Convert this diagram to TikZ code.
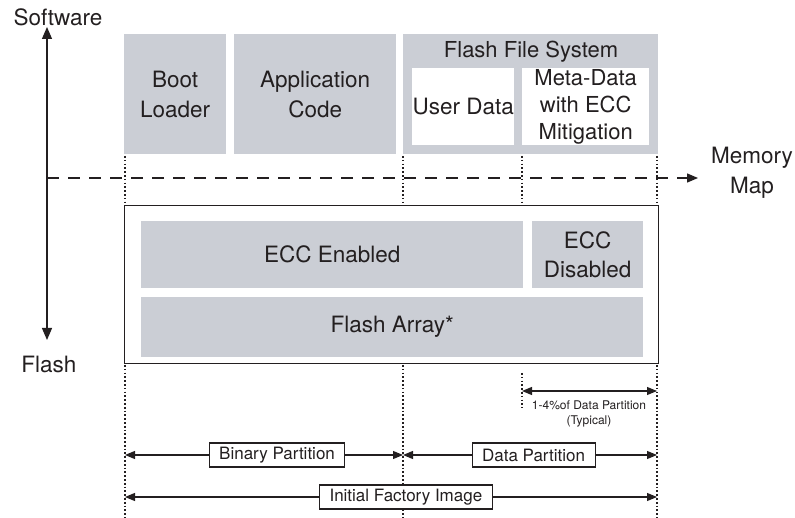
\documentclass[tikz,border=0pt]{standalone}
\usepackage{fontspec}
\setmainfont{TeX Gyre Heros}
\usetikzlibrary{arrows.meta}
\definecolor{boxgray}{RGB}{203,206,213}
\definecolor{ink}{RGB}{35,31,32}
\newcommand{\bigtxt}{\fontsize{22.5}{30}\selectfont}
\newcommand{\midtxt}{\fontsize{17}{20}\selectfont}
\newcommand{\smalltxt}{\fontsize{12}{15}\selectfont}
\begin{document}
\begin{tikzpicture}[x=1pt,y=-1pt,
  blk/.style={fill=boxgray, inner sep=0pt, align=center, font=\bigtxt, text=ink, anchor=north west},
  wblk/.style={blk, fill=white},
  guide/.style={draw=ink, line width=1.8pt, dash pattern=on 1.7pt off 2.1pt},
  dim/.style={{Triangle[length=10pt,width=8pt]}-{Triangle[length=10pt,width=8pt]}, line width=1.1pt, draw=ink},
  tag/.style={draw=ink, line width=1.1pt, fill=white, font=\midtxt, text=ink, inner xsep=10pt, minimum height=24pt, inner ysep=0pt},
  lbl/.style={font=\bigtxt, text=ink, align=center, inner sep=0pt}]
\useasboundingbox (0,0) rectangle (795,518);

% software stack
\node[blk, minimum width=102pt, minimum height=120pt] (boot) at (124,34) {Boot\\Loader};
\node[blk, minimum width=162pt, minimum height=120pt] (app) at (234,34) {Application\\Code};
\node[blk, minimum width=255pt, minimum height=120pt] (ffs) at (403,34) {};
\node[lbl, font=\fontsize{22}{24}\selectfont, anchor=base] (ffst) at (531,58) {Flash File System};
\node[wblk, minimum width=102pt, minimum height=77pt] (user) at (412,68) {User Data};
\node[wblk, minimum width=127pt, minimum height=77pt, font=\fontsize{22}{27}\selectfont] (meta) at (522,68) {Meta-Data\\with ECC\\Mitigation};

% flash device
\node[draw=ink, line width=1.4pt, minimum width=534pt, minimum height=158pt, inner sep=0pt, anchor=north west] (dev) at (124,205) {};
\node[blk, minimum width=382pt, minimum height=67pt] (eccen) at (141,221) {ECC Enabled};
\node[blk, minimum width=111pt, minimum height=67pt, font=\fontsize{22.5}{29}\selectfont] (eccdis) at (532,221) {ECC\\Disabled};
\node[blk, minimum width=502pt, minimum height=60pt] (arr) at (141,297) {Flash Array*};

% axes
\node[lbl] (sw) at (58,17) {Software};
\node[lbl] (fl) at (49,364) {Flash};
\coordinate (axtop) at (47,27);
\coordinate (axbot) at (47,340);
\draw[{Triangle[length=12pt,width=10pt]}-{Triangle[length=12pt,width=10pt]}, line width=1.3pt, draw=ink] (axtop) -- (axbot);

\coordinate (mmstart) at (47,178);
\coordinate (mmend) at (698,178);
\draw[-{Triangle[length=11pt,width=9pt]}, line width=1.3pt, draw=ink, dash pattern=on 12pt off 9pt] (mmstart) -- (mmend);
\node[lbl, align=center] (mm) at (752,173) {Memory\\Map};

% partition guides
\foreach \gx/\gn in {125/a,403/b,522/c,657/d} {
  \coordinate (t\gn) at (\gx,156);
  \coordinate (u\gn) at (\gx,205);
}
\foreach \gn in {a,b,c,d} \draw[guide] (t\gn) -- (u\gn);
\coordinate (la) at (125,365);
\coordinate (lb) at (403,365);
\coordinate (lc) at (522,373);
\coordinate (ld) at (657,365);
\coordinate (ea) at (125,518);
\coordinate (eb) at (403,518);
\coordinate (ec) at (522,408);
\coordinate (ed) at (657,518);
\draw[guide] (la) -- (ea);
\draw[guide] (lb) -- (eb);
\draw[guide] (lc) -- (ec);
\draw[guide] (ld) -- (ed);

% dimension arrows
\coordinate (sa) at (522,391);
\coordinate (sb) at (657,391);
\draw[dim] (sa) -- (sb);
\node[font=\smalltxt, text=ink, align=center, inner sep=0pt] (pct) at (589,414) {1-4\%of Data Partition\\(Typical)};

\coordinate (ba) at (125,455);
\coordinate (bb) at (403,455);
\coordinate (bc) at (657,455);
\draw[dim] (ba) -- node[tag, pos=0.547] (binp) {Binary Partition} (bb);
\draw[dim] (bb) -- node[tag, pos=0.514] (datp) {Data Partition} (bc);

\coordinate (ia) at (125,497);
\coordinate (ib) at (657,497);
\draw[dim] (ia) -- node[tag, pos=0.528] (ifi) {Initial Factory Image} (ib);
\end{tikzpicture}
\end{document}
